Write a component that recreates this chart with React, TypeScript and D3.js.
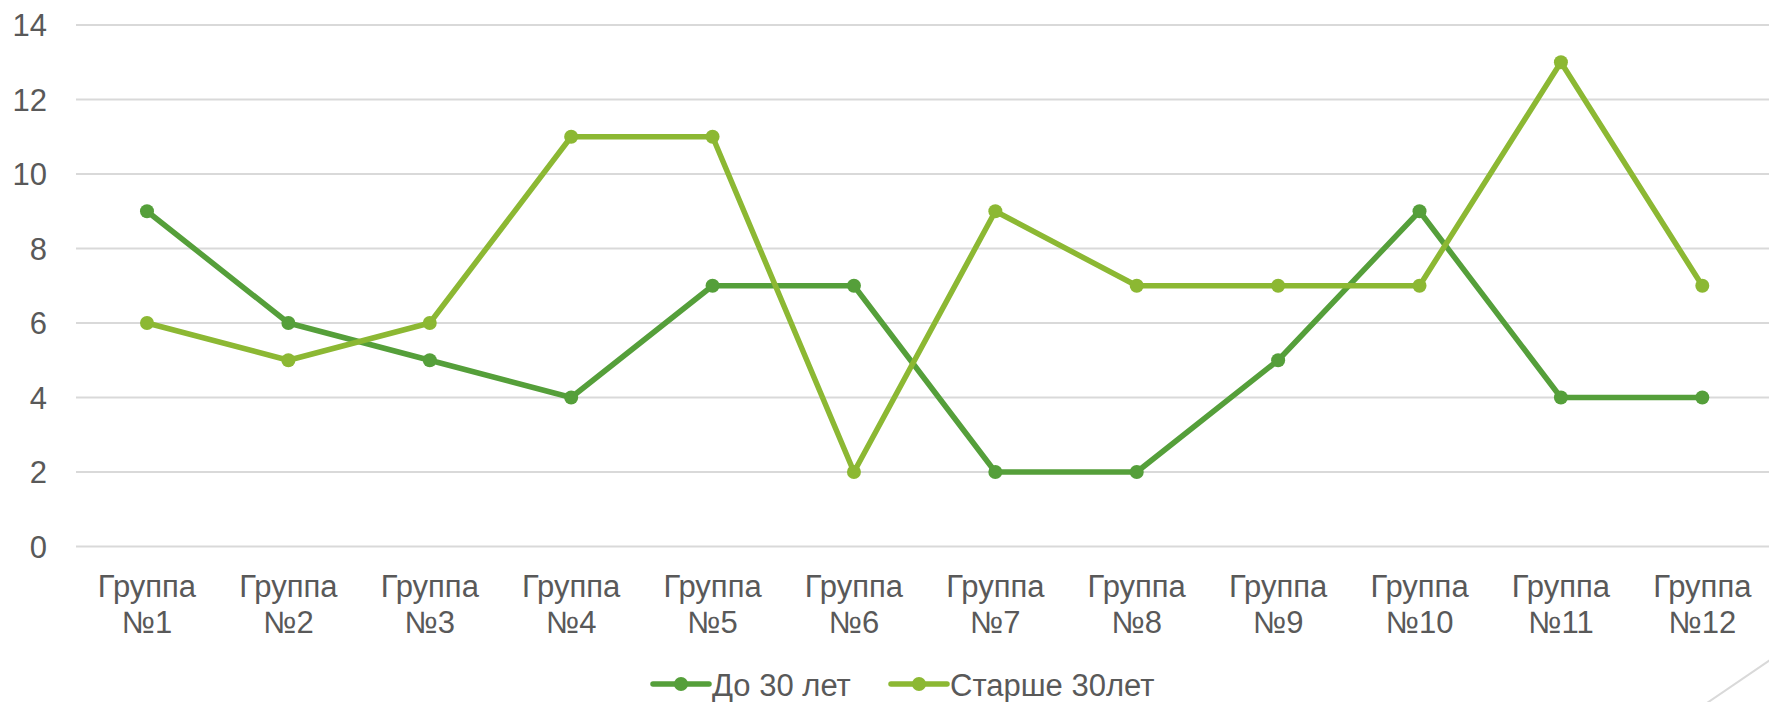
import React from 'react';
import * as d3 from 'd3';

// Данные графика
const categories = ['Группа №1', 'Группа №2', 'Группа №3', 'Группа №4', 'Группа №5', 'Группа №6',
  'Группа №7', 'Группа №8', 'Группа №9', 'Группа №10', 'Группа №11', 'Группа №12'];
const under30 = [9, 6, 5, 4, 7, 7, 2, 2, 5, 9, 4, 4];
const over30 = [6, 5, 6, 11, 11, 2, 9, 7, 7, 7, 13, 7];
const yTicks = [0, 2, 4, 6, 8, 10, 12, 14];

const seriesNames = ['До 30 лет', 'Старше 30лет'];
const colors = ['#559F3A', '#8CB833'];

const W = 1769;
const H = 702;
const FONT = '"Liberation Sans", Arial, sans-serif';
const TEXT = '#595959';
const FS = 31;

const App: React.FC = () => {
  const x = d3.scaleBand<string>()
    .domain(categories)
    .range([76.3, 1773]);

  const y = d3.scaleLinear()
    .domain([0, 14])
    .range([546.5, 25]);

  const cx = (c: string) => x(c)! + x.bandwidth() / 2;

  const line = d3.line<number>()
    .x((_, i) => cx(categories[i]))
    .y(d => y(d));

  const series = [under30, over30];

  // легенда
  const legendItems = [
    { x: 653, name: seriesNames[0], color: colors[0] },
    { x: 891, name: seriesNames[1], color: colors[1] }
  ];

  return (
    <svg width={W} height={H} style={{ position: 'absolute', left: 0, top: 0, background: '#fff' }}>
      {/* сетка */}
      {yTicks.map(t => (
        <g key={t}>
          <line x1={76} x2={W} y1={y(t)} y2={y(t)} stroke="#d9d9d9" strokeWidth={2} />
          <text x={47} y={y(t)} dy="0.36em" textAnchor="end" fontFamily={FONT} fontSize={FS} fill={TEXT}>{t}</text>
        </g>
      ))}

      {/* подписи категорий */}
      {categories.map(c => {
        const [a, b] = c.split(' ');
        return (
          <text key={c} x={cx(c)} textAnchor="middle" fontFamily={FONT} fontSize={FS} fill={TEXT}>
            <tspan x={cx(c)} y={597}>{a}</tspan>
            <tspan x={cx(c)} y={633}>{b}</tspan>
          </text>
        );
      })}

      {/* линии */}
      {series.map((s, si) => (
        <g key={si}>
          <path d={line(s) || ''} fill="none" stroke={colors[si]} strokeWidth={5.5} strokeLinejoin="round" strokeLinecap="round" />
          {s.map((v, i) => (
            <circle key={i} cx={cx(categories[i])} cy={y(v)} r={7} fill={colors[si]} />
          ))}
        </g>
      ))}

      {/* легенда */}
      {legendItems.map(l => (
        <g key={l.name}>
          <line x1={l.x} x2={l.x + 56} y1={684} y2={684} stroke={l.color} strokeWidth={5.5} strokeLinecap="round" />
          <circle cx={l.x + 28} cy={684} r={7} fill={l.color} />
          <text x={l.x + 59} y={696} fontFamily={FONT} fontSize={FS} fill={TEXT}>{l.name}</text>
        </g>
      ))}

      {/* декоративная линия */}
      <line x1={1707} y1={703} x2={1770} y2={660} stroke="#d9d9d9" strokeWidth={2} />
    </svg>
  );
};

export default App;
